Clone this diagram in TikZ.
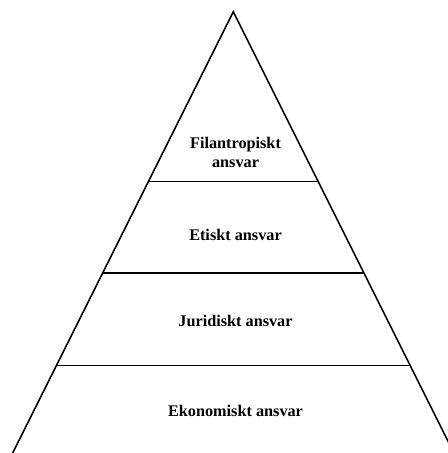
\documentclass[tikz,border=0pt]{standalone}
\usepackage{fontspec}
\setmainfont{Liberation Serif}
\usetikzlibrary{calc}

\begin{document}
\begin{tikzpicture}[x=1bp, y=-1bp, line width=1.6bp,
    level/.style={font=\bfseries\fontsize{16.3}{19.5}\selectfont, align=center}]
  \useasboundingbox (0,0) rectangle (448,453);
  \clip (0,0) rectangle (448,453);
  % Pyramida
  \coordinate (apex) at (233.3,11.7);
  \coordinate (baseL) at (12.5,453.3);
  \coordinate (baseR) at (454.1,453.3);
  \draw (baseL) -- (apex) -- (baseR);
  % Deleni
  \foreach \yy/\name in {181.7/one, 273/two, 365.3/three} {
    \coordinate (\name L) at ($(apex)!{(\yy-11.7)/441.6}!(baseL)$);
    \coordinate (\name R) at ($(apex)!{(\yy-11.7)/441.6}!(baseR)$);
    \draw (\name L) -- (\name R);
  }
  % Popisy
  \node[level] (filantrop) at (235.5,152.5) {Filantropiskt\\ansvar};
  \node[level] (etisk) at (235.5,234.5) {Etiskt ansvar};
  \node[level] (juridisk) at (235.5,321) {Juridiskt ansvar};
  \node[level] (ekonomisk) at (235.5,411) {Ekonomiskt ansvar};
\end{tikzpicture}
\end{document}
